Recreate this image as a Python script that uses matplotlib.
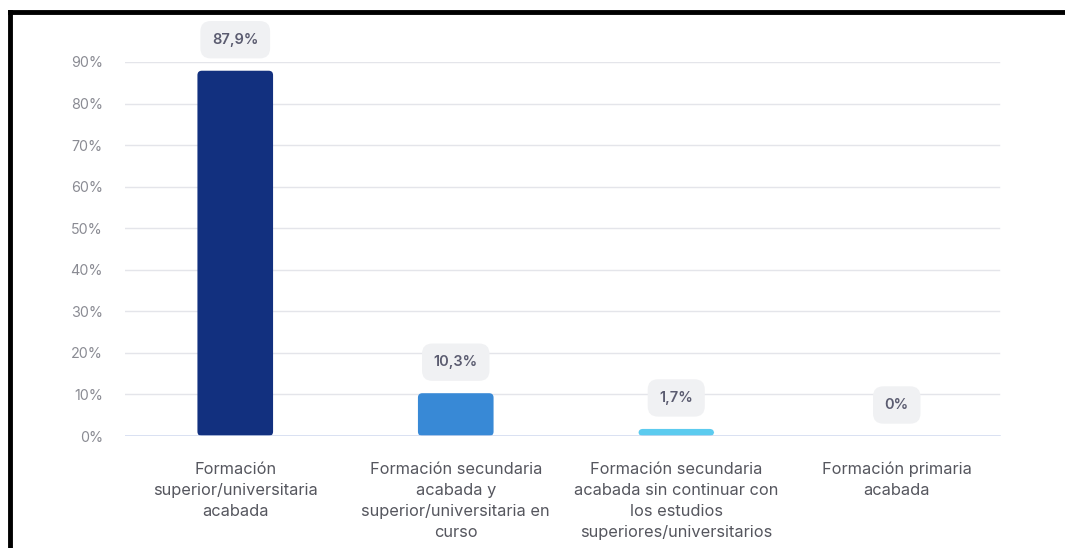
import matplotlib
matplotlib.use("Agg")
import matplotlib.pyplot as plt
from matplotlib.patches import FancyBboxPatch
from matplotlib.lines import Line2D

categories = [
    "Formación\nsuperior/universitaria\nacabada",
    "Formación secundaria\nacabada y\nsuperior/universitaria en\ncurso",
    "Formación secundaria\nacabada sin continuar con\nlos estudios\nsuperiores/universitarios",
    "Formación primaria\nacabada",
]
values = [87.9, 10.3, 1.7, 0.0]
value_labels = ["87,9%", "10,3%", "1,7%", "0%"]
colors = ["#12307f", "#3889d6", "#5ccbef", "#5ccbef"]
yticks = [0, 10, 20, 30, 40, 50, 60, 70, 80, 90]
ytick_labels = [f"{t}%" for t in yticks]

plt.rcParams['font.family'] = ['Inter', 'DejaVu Sans']

W, H = 1065, 548
fig = plt.figure(figsize=(W / 100, H / 100), dpi=100)
fig.patch.set_facecolor("white")

left, right, top, bottom = 125, 1007, 62, 436
grid_end = 999
ax = fig.add_axes([left / W, 1 - bottom / H, (right - left) / W, (bottom - top) / H])
ax.set_xlim(-0.5, 3.5)
ax.set_ylim(0, 90)
ax.set_facecolor("white")
ax.patch.set_alpha(0)

xmax_frac = (grid_end - left) / (right - left)
for t in yticks[1:]:
    ax.axhline(t, xmin=0, xmax=xmax_frac, color="#e4e5ea", lw=1.0, zorder=0)
ax.axhline(0, xmin=0, xmax=xmax_frac, color="#cfd8ee", lw=1.8, zorder=3)

x = list(range(len(categories)))
bw = 0.343
for xi, v, c in zip(x, values, colors):
    if v <= 0:
        continue
    bar = FancyBboxPatch((xi - bw / 2, 0), bw, v,
                         boxstyle="round,pad=0,rounding_size=0.02",
                         mutation_aspect=(90 / 374) / (4 / 882),
                         facecolor=c, edgecolor="none", zorder=2)
    ax.add_patch(bar)

# value labels in rounded boxes
for xi, v, lab in zip(x, values, value_labels):
    ax.annotate(lab, xy=(xi, v), xytext=(0, 31), textcoords="offset pixels",
                ha="center", va="center", fontsize=10.5, fontweight="semibold",
                color="#5b5c70",
                bbox=dict(boxstyle="round,pad=0.8,rounding_size=0.7",
                          facecolor="#f0f1f3", edgecolor="none"),
                zorder=5)

ax.set_yticks(yticks)
ax.set_yticklabels(ytick_labels, color="#8a8b93", fontsize=10.3)
ax.set_xticks(x)
ax.set_xticklabels(categories, color="#55565e", fontsize=11.8, linespacing=1.50, va="top")
ax.tick_params(axis="y", length=0, pad=16)
ax.tick_params(axis="x", length=0, pad=18.5)
for s in ax.spines.values():
    s.set_visible(False)

# screenshot frame (left and top black border)
fig.add_artist(Line2D([10 / W, 10 / W], [0, 1 - 12 / H], transform=fig.transFigure,
                      color="black", lw=3.5))
fig.add_artist(Line2D([10 / W, 1.0], [1 - 12 / H, 1 - 12 / H], transform=fig.transFigure,
                      color="black", lw=3.5))

fig.savefig("out.png", dpi=100, facecolor="white")
